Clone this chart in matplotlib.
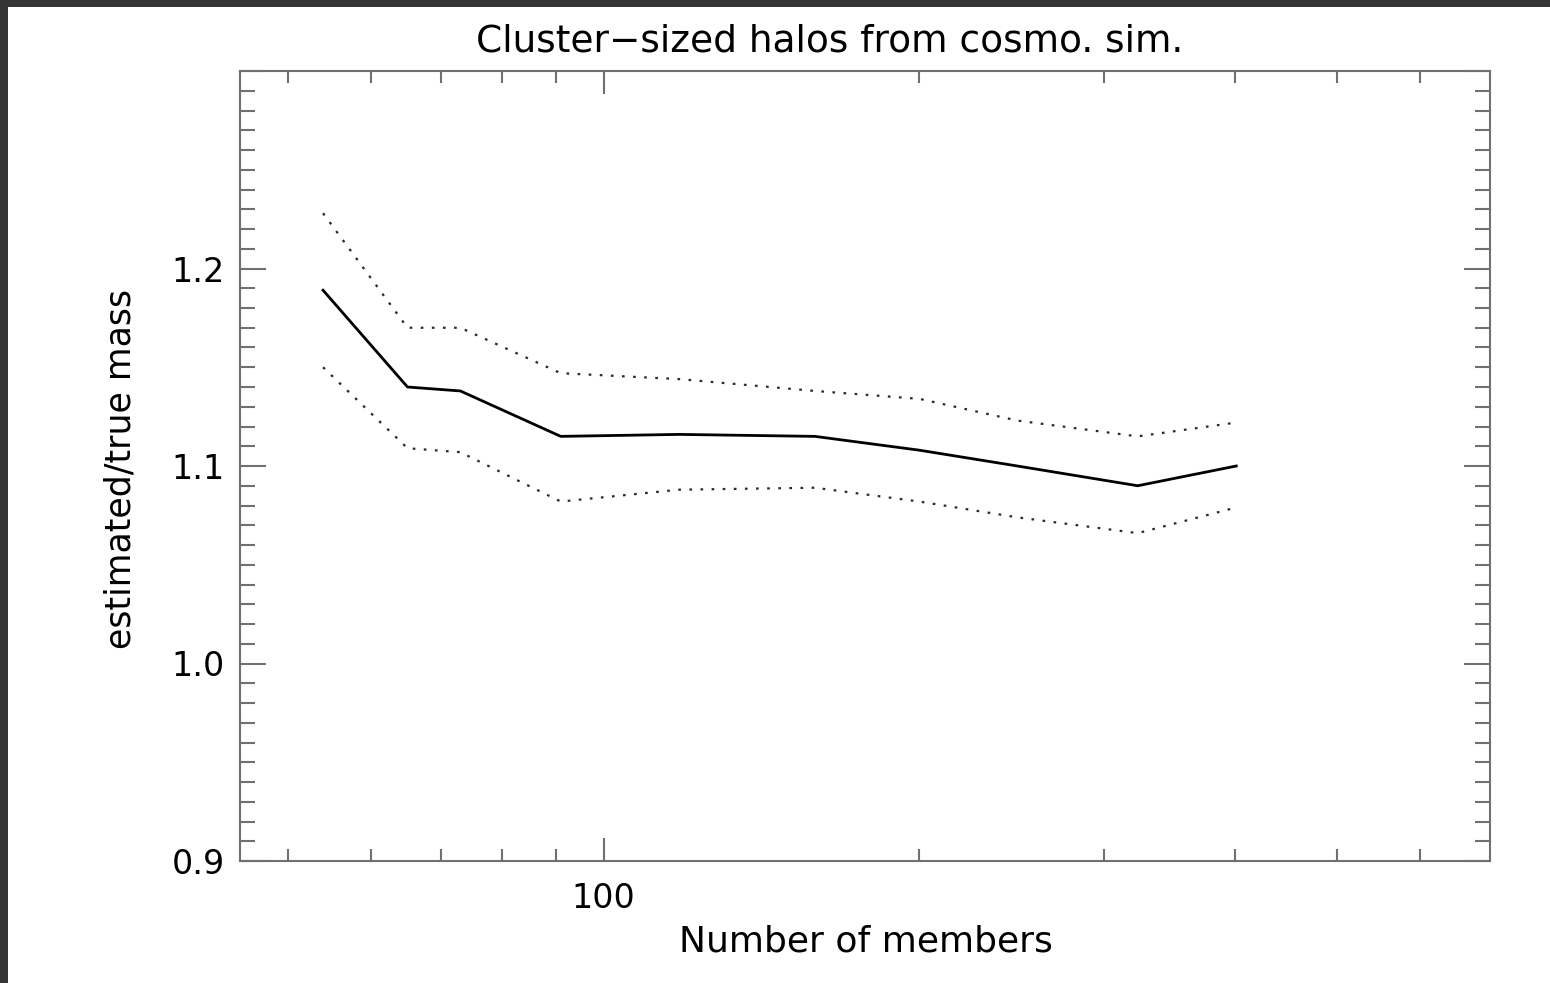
import matplotlib
matplotlib.use("Agg")
import matplotlib.pyplot as plt
from matplotlib.patches import Rectangle
from matplotlib.ticker import FixedLocator, NullFormatter, FormatStrFormatter, MultipleLocator

# number of members (log axis) and estimated/true mass ratio
members = [54, 65, 73, 91, 118, 159, 200, 248, 323, 401]
median = [1.189, 1.140, 1.138, 1.115, 1.116, 1.115, 1.108, 1.100, 1.090, 1.100]
upper = [1.228, 1.170, 1.170, 1.147, 1.144, 1.138, 1.134, 1.123, 1.115, 1.122]
lower = [1.150, 1.109, 1.107, 1.082, 1.088, 1.089, 1.082, 1.074, 1.066, 1.079]

x_major = [100]
x_minor = [50, 60, 70, 80, 90, 200, 300, 400, 500, 600]
y_major = [0.9, 1.0, 1.1, 1.2, 1.3]
y_labels = ['0.9', '1.0', '1.1', '1.2', '']

title = 'Cluster\u2212sized halos from cosmo. sim.'
xlab = 'Number of members'
ylab = 'estimated/true mass'

plt.rcParams['font.family'] = ['DejaVu Sans']

fig = plt.figure(figsize=(15.5, 9.83), dpi=100)
fig.patch.set_facecolor('white')
# dark frame edges from the screenshot
fig.patches.append(Rectangle((0, 1 - 7 / 983), 1, 7 / 983, transform=fig.transFigure,
                             facecolor='#353535', edgecolor='none'))
fig.patches.append(Rectangle((0, 0), 8 / 1550, 1, transform=fig.transFigure,
                             facecolor='#353535', edgecolor='none'))

ax = fig.add_axes([240 / 1550, 1 - 861 / 983, 1250 / 1550, 790 / 983])

ax.plot(members, upper, color='#2a2a2a', lw=1.6, linestyle=(0, (1.2, 3.8)))
ax.plot(members, lower, color='#2a2a2a', lw=1.6, linestyle=(0, (1.2, 3.8)))
ax.plot(members, median, color='black', lw=2.0)

ax.set_xscale('log')
ax.set_xlim(45, 700)
ax.set_ylim(0.9, 1.3)

ax.xaxis.set_major_locator(FixedLocator(x_major))
ax.xaxis.set_major_formatter(FormatStrFormatter('%d'))
ax.xaxis.set_minor_locator(FixedLocator(x_minor))
ax.xaxis.set_minor_formatter(NullFormatter())
ax.set_yticks(y_major)
ax.set_yticklabels(y_labels)
ax.yaxis.set_minor_locator(MultipleLocator(0.01))

for s in ax.spines.values():
    s.set_color('#707070')
    s.set_linewidth(1.5)

ax.tick_params(which='both', direction='in', top=True, right=True,
               color='#707070', width=1.5, labelsize=24, labelcolor='black')
ax.tick_params(axis='x', which='major', length=16.5, pad=15)
ax.tick_params(axis='x', which='minor', length=8.5)
ax.tick_params(axis='y', which='major', length=19, pad=11)
ax.tick_params(axis='y', which='minor', length=10.5)

fig.text(830 / 1550, 1 - 42 / 983, title, ha='center', va='center', fontsize=27)
fig.text(866 / 1550, 1 - 942 / 983, xlab, ha='center', va='center', fontsize=26)
fig.text(120 / 1550, 1 - 469 / 983, ylab, ha='center', va='center', fontsize=25,
         rotation=90)

fig.savefig('out.png', dpi=100)
